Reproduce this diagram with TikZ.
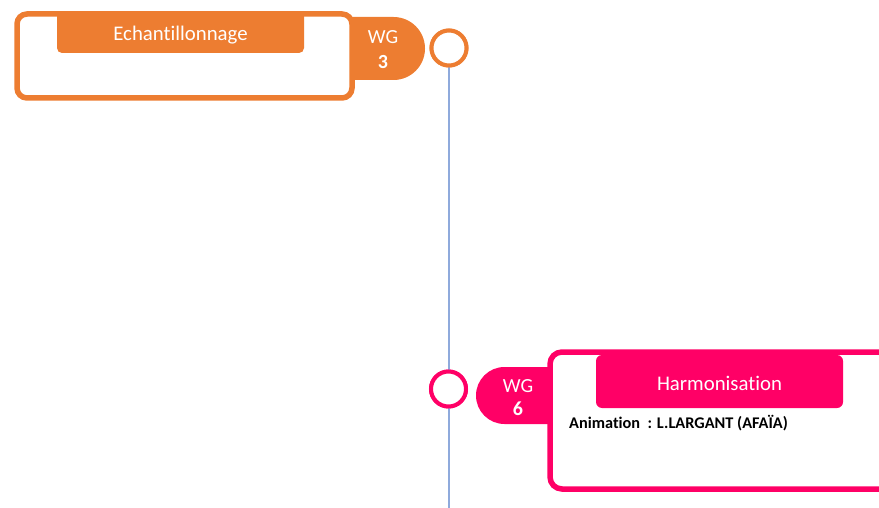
\documentclass[tikz,border=0pt]{standalone}
\usepackage{fontspec}
\setmainfont[Ligatures=NoCommon]{Carlito}
\definecolor{wgorange}{HTML}{ED7D31}
\definecolor{wgpink}{HTML}{FF0066}
\definecolor{axisblue}{HTML}{8FAADC}
\tikzset{
  frame/.style={line width=5.5pt, fill=white, rounded corners=10pt},
  header/.style={text=white, font=\fontsize{20.8}{24}\selectfont},
  wgtext/.style={text=white, font=\fontsize{20}{23}\selectfont, align=center, inner sep=0pt},
  wgnum/.style={text=white, font=\fontsize{20}{23}\selectfont\bfseries, inner sep=0pt},
  milestone/.style={circle, line width=4pt, fill=white, minimum size=35pt, inner sep=0pt},
}
\begin{document}
\begin{tikzpicture}[x=1pt,y=-1pt]
\useasboundingbox (0,0) rectangle (879,508);
\clip (0,0) rectangle (879,508);
% axis
\coordinate (axisend) at (449,508);
\node[milestone, draw=wgorange] (m3) at (449,48) {};
\node[milestone, draw=wgpink] (m6) at (448.5,389) {};
\draw[axisblue, line width=1.2pt] (m3.south) -- (axisend);
\node[milestone, draw=wgorange] at (m3) {};
\node[milestone, draw=wgpink] at (m6) {};
% WG3 tab
\fill[wgorange] (345,17) -- (393.5,17) arc[start angle=-90, end angle=90, radius=31.5] -- (345,80) -- cycle;
\node[wgtext] (wg3a) at (383,37.5) {WG};
\node[wgnum] (wg3b) at (383,62) {3};
% orange frame
\draw[frame, draw=wgorange] (17,14) rectangle (352,98);
\fill[wgorange] (57,16) [rounded corners=5pt] -- (57,53) -- (304,53) [sharp corners] -- (304,16) -- cycle;
\node[header] (h3) at (180.5,35) {Echantillonnage};
% WG6 tab
\fill[wgpink] (560,367) -- (504.5,367) arc[start angle=-90, end angle=-270, radius=28.5] -- (560,424) -- cycle;
\node[wgtext] (wg6a) at (518,386) {WG};
\node[wgnum] (wg6b) at (518,409) {6};
% pink frame
\draw[frame, draw=wgpink, rounded corners=12pt] (550,352) rectangle (920,489);
\fill[wgpink, rounded corners=6pt] (596,355) rectangle (843,408);
\node[header] (h6) at (719.5,383) {Harmonisation};
\node[anchor=west, inner sep=0pt, font=\fontsize{16.3}{18}\selectfont\bfseries] (anim) at (569,423) {Animation\ \ : L.LARGANT (AFAÏA)};
\end{tikzpicture}
\end{document}
